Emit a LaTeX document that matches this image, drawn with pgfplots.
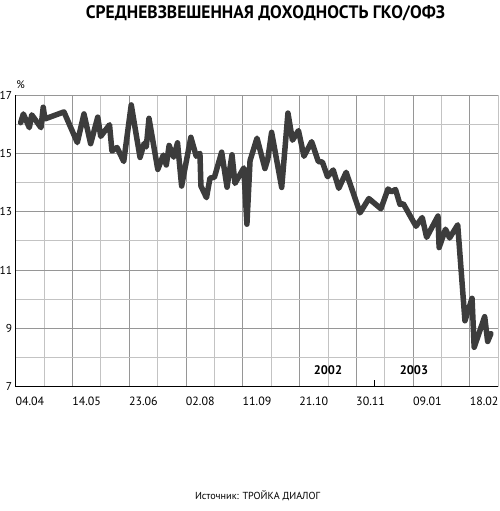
\documentclass[border=0pt]{standalone}
\usepackage{fontspec}
\setmainfont{PT Sans}
\usepackage{pgfplots}
\pgfplotsset{compat=1.18}
\definecolor{yieldline}{RGB}{60,60,60}
\definecolor{gridmaj}{RGB}{150,150,150}
\definecolor{gridmin}{RGB}{195,195,195}

\begin{document}
\begin{tikzpicture}
  \useasboundingbox (0,0) rectangle (500bp,511bp);
  \begin{axis}[
      at={(15.7bp,124.3bp)}, anchor=south west,
      scale only axis,
      width=482.6bp, height=291.7bp,
      xmin=-10, xmax=330,
      ymin=7, ymax=17,
      axis lines=left,
      axis line style={-, line width=1.3bp, black},
      xtick={30,70,...,310},
      minor xtick={10,50,...,330},
      xticklabels={},
      ytick={7,9,...,17},
      minor ytick={8,10,...,16},
      yticklabels={7,9,11,13,15,\raisebox{-4bp}{17}},
      grid=both,
      major grid style={gridmaj, line width=0.9bp},
      minor grid style={gridmin, line width=0.9bp},
      major tick length=0, minor tick length=0,
      extra x ticks={0,40,...,320},
      extra x tick labels={04.04,14.05,23.06,02.08,11.09,21.10,30.11,09.01,18.02},
      extra x tick style={grid=none},
      x tick label style={font=\fontsize{12}{12}\selectfont, yshift=-7bp},
      y tick label style={font=\fontsize{11.5}{12}\selectfont},
      clip=false,
    ]

    \addplot[yieldline, line width=5.5bp, line join=round, line cap=round] coordinates {
      (-6.5,16.05) (-4.6,16.35) (-0.4,15.88) (1.3,16.32) (7.8,15.88)
      (9.4,16.58) (10.6,16.18) (24.0,16.42) (33.4,15.37) (38.1,16.35)
      (42.8,15.33) (47.8,16.24) (49.9,15.58) (56.1,15.98) (57.8,15.08)
      (61.4,15.20) (66.1,14.72) (71.4,16.66) (77.6,14.86) (80.5,15.34)
      (82.0,15.22) (83.9,16.20) (90.1,14.45) (94.0,14.94) (96.1,14.60)
      (98.1,15.27) (101.3,14.87) (104.0,15.36) (106.9,13.88) (113.4,15.55)
      (117.2,14.90) (119.8,15.00) (120.5,13.88) (124.4,13.48) (126.9,14.15)
      (130.0,14.18) (135.1,15.04) (138.9,13.84) (142.4,14.95) (144.5,13.97)
      (150.7,14.50) (152.9,12.57) (155.1,14.75) (160.0,15.52) (165.6,14.48)
      (167.6,14.80) (170.3,15.72) (177.4,13.83) (181.8,16.38) (185.0,15.45)
      (189.2,15.78) (193.1,14.90) (198.5,15.40) (203.2,14.72) (206.1,14.70)
      (209.7,14.20) (213.7,14.43) (217.6,13.80) (222.8,14.35) (232.6,12.96)
      (238.8,13.45) (247.3,13.10) (252.3,13.78) (254.5,13.68) (257.6,13.76)
      (260.7,13.25) (263.1,13.27) (272.0,12.50) (276.4,12.80) (279.5,12.12)
      (287.5,12.85) (288.3,11.77) (292.8,12.40) (295.7,12.10) (301.4,12.55)
      (306.5,9.26) (311.5,10.03) (313.0,8.35) (320.4,9.40) (322.5,8.55)
      (324.8,8.82)
    };

    \draw[black, line width=1.2bp] (axis cs:242.6,7) -- (axis cs:242.6,7.24);
    \node[font=\bfseries\fontsize{12.5}{13}\selectfont] at (axis cs:210,7.58) {2002};
    \node[font=\bfseries\fontsize{12.5}{13}\selectfont] at (axis cs:270.6,7.58) {2003};
  \end{axis}

  \node[font=\fontsize{11}{12}\selectfont] at (20.5bp,426.5bp) {\%};
  \node[anchor=base, inner sep=0pt] at (265.5bp,492.7bp)
    {\resizebox{359bp}{13bp}{\bfseries СРЕДНЕВЗВЕШЕННАЯ ДОХОДНОСТЬ ГКО/ОФЗ}};
  \node[anchor=base, inner sep=0pt] at (257.5bp,11.7bp)
    {\resizebox{125bp}{!}{Источник: ТРОЙКА ДИАЛОГ}};
\end{tikzpicture}
\end{document}
